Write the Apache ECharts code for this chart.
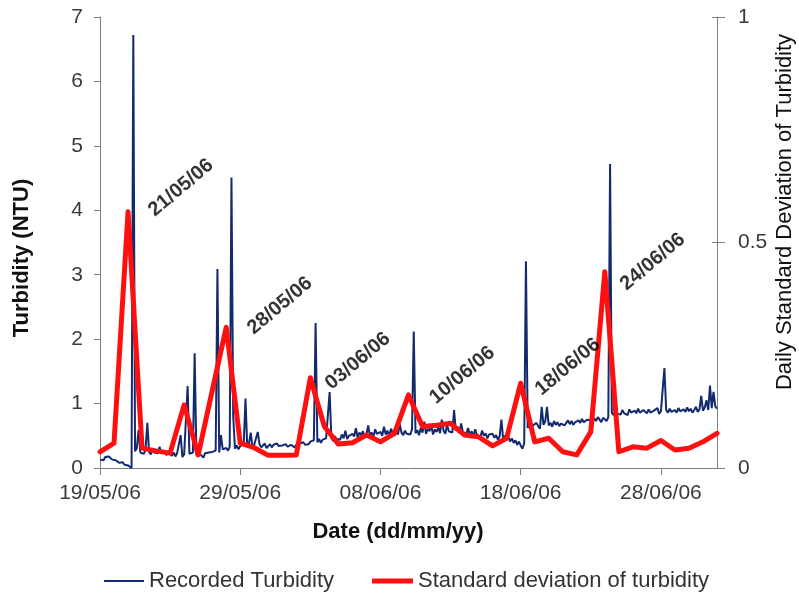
<!DOCTYPE html>
<html>
<head>
<meta charset="utf-8">
<script src="https://cdn.jsdelivr.net/npm/echarts@6/dist/echarts.min.js"></script>
<style>
  html, body { margin: 0; padding: 0; background: #ffffff; }
  #chart { width: 799px; height: 595px; }
</style>
</head>
<body>
<div id="chart"></div>
<script>
// Days counted from 19/05/06; turbidity is sampled every 3 hours.
const stepDays = 1 / 8;
const xTickDays = [0, 10, 20, 30, 40];
const xTickLabels = ['19/05/06', '29/05/06', '08/06/06', '18/06/06', '28/06/06'];

// Recorded turbidity (NTU), one value per 3 h, 8 per day
const turbidity = [
  0.13,0.16,0.12,0.17,0.14,0.18,0.15,0.13,
  0.16,0.12,0.14,0.08,0.06,0.09,0.05,0.07,
  0.04,0.02,0.00,6.72,0.26,0.31,0.59,0.24,
  0.27,0.22,0.29,0.70,0.25,0.21,0.28,0.24,
  0.26,0.23,0.33,0.22,0.27,0.24,0.20,0.25,
  0.22,0.19,0.24,0.18,0.23,0.20,0.51,0.17,
  0.21,0.18,1.27,0.22,0.19,0.24,1.78,0.20,
  0.17,0.22,0.19,0.16,0.23,0.20,0.24,0.21,
  0.25,0.22,0.27,3.09,0.24,0.51,0.29,0.26,
  0.31,0.27,0.33,4.51,0.80,0.30,0.35,0.29,
  0.34,0.31,0.37,1.08,0.33,0.38,0.55,0.32,
  0.36,0.33,0.56,0.37,0.32,0.35,0.38,0.31,
  0.34,0.37,0.32,0.36,0.33,0.38,0.34,0.31,
  0.35,0.32,0.37,0.33,0.30,0.36,0.34,0.32,
  0.36,0.33,0.38,0.35,0.40,0.36,0.39,0.37,
  0.41,0.38,0.43,2.25,0.40,0.45,0.39,0.44,
  0.41,0.46,0.43,1.18,0.47,0.42,0.49,0.45,
  0.48,0.44,0.52,0.46,0.58,0.45,0.50,0.47,
  0.53,0.49,0.62,0.47,0.55,0.51,0.57,0.48,
  0.52,0.66,0.50,0.55,0.49,0.60,0.53,0.51,
  0.56,0.50,0.64,0.52,0.58,0.49,0.61,0.54,
  0.50,0.57,0.52,0.68,0.55,0.51,0.58,0.53,
  0.56,0.52,0.60,2.12,0.54,0.59,0.51,0.62,
  0.55,0.72,0.53,0.61,0.57,0.66,0.52,0.60,
  0.56,0.63,0.54,0.75,0.58,0.53,0.67,0.57,
  0.60,0.55,0.90,0.58,0.64,0.54,0.69,0.56,
  0.59,0.53,0.62,0.51,0.57,0.49,0.60,0.52,
  0.55,0.48,0.58,0.50,0.54,0.46,0.52,0.49,
  0.53,0.47,0.51,0.44,0.49,0.75,0.45,0.50,
  0.44,0.48,0.41,0.46,0.39,0.43,0.36,0.41,
  0.35,0.30,0.38,3.21,0.62,0.68,0.60,0.66,
  0.63,0.70,0.65,0.61,0.95,0.67,0.72,0.95,
  0.66,0.70,0.64,0.73,0.67,0.71,0.65,0.69,
  0.72,0.66,0.70,0.74,0.68,0.73,0.67,0.71,
  0.69,0.74,0.70,0.76,0.71,0.68,0.75,0.72,
  0.74,0.70,0.77,0.73,0.79,0.75,0.71,0.78,
  0.76,0.73,0.79,4.72,0.86,0.82,0.89,0.84,
  0.87,0.83,0.90,0.85,0.88,0.82,0.91,0.86,
  0.84,0.89,0.85,0.92,0.86,0.83,0.90,0.87,
  0.85,0.91,0.86,0.83,0.89,0.86,0.93,0.84,
  0.88,0.85,1.55,0.90,0.86,0.92,0.87,0.84,
  0.90,0.86,0.93,0.88,0.85,0.91,0.87,0.94,
  0.88,0.92,0.86,0.90,0.95,0.87,0.91,1.12,
  0.89,0.94,1.05,0.90,1.28,0.93,1.18,0.96,
  0.92
];

// Daily standard deviation of turbidity, one value per day
const sdDaily = [
  0.036,0.055,0.568,0.044,0.038,0.033,0.140,0.029,0.171,0.312,
  0.055,0.045,0.028,0.028,0.029,0.200,0.092,0.053,0.056,0.073,
  0.058,0.077,0.162,0.092,0.095,0.099,0.073,0.069,0.049,0.066,
  0.188,0.058,0.066,0.036,0.029,0.080,0.435,0.036,0.047,0.044,
  0.061,0.040,0.044,0.058,0.077
];

// Event dates written beside the peaks, placed at (day, turbidity level)
const eventLabels = ['21/05/06', '28/05/06', '03/06/06', '10/06/06', '18/06/06', '24/06/06'];
const eventDays   = [5.77, 12.83, 18.39, 25.84, 33.36, 39.42];
const eventLevels = [4.35, 2.52, 1.66, 1.44, 1.57, 3.20];

const leftTicks = [0, 1, 2, 3, 4, 5, 6, 7];
const rightTicks = [0, 0.5, 1];

const FONT = '"Liberation Sans", Arial, sans-serif';
const AXIS_GREY = '#7f7f7f';
const TEXT_GREY = '#3a3a3a';
const BLUE = '#142a6e';
const RED = '#ff1010';

const chart = echarts.init(document.getElementById('chart'), null, { renderer: 'canvas' });

const turbidityData = turbidity.map((v, i) => [i * stepDays, v]);
const sdData = sdDaily.map((v, i) => [i, v]);
const eventData = eventLabels.map((t, i) => ({ value: [eventDays[i], eventLevels[i]], name: t }));

const legendText = { fontFamily: FONT, fontSize: 22, color: '#333333' };

const option = {
  backgroundColor: '#ffffff',
  animation: false,
  grid: { left: 100, right: 82, top: 17, bottom: 127, containLabel: false },
  legend: [
    {
      data: ['Recorded Turbidity'],
      icon: 'rect',
      left: 99, top: 565,
      itemWidth: 40, itemHeight: 2,
      textStyle: legendText
    },
    {
      data: ['Standard deviation of turbidity'],
      icon: 'rect',
      left: 367, top: 565,
      itemWidth: 41, itemHeight: 5,
      textStyle: legendText
    }
  ],
  xAxis: {
    type: 'value',
    min: 0,
    max: 44,
    interval: 10,
    axisLine: { show: true, lineStyle: { color: AXIS_GREY, width: 1 } },
    axisTick: { show: true, inside: false, length: 7, lineStyle: { color: AXIS_GREY }, customValues: xTickDays },
    axisLabel: {
      customValues: xTickDays,
      margin: 15,
      fontFamily: FONT, fontSize: 21, color: TEXT_GREY,
      formatter: v => {
        const k = xTickDays.indexOf(v);
        return k >= 0 ? xTickLabels[k] : '';
      }
    },
    splitLine: { show: false }
  },
  yAxis: [
    {
      type: 'value',
      min: 0, max: 7, interval: 1,
      position: 'left',
      axisLine: { show: true, lineStyle: { color: AXIS_GREY, width: 1 } },
      axisTick: { show: true, inside: false, length: 6, lineStyle: { color: AXIS_GREY }, customValues: leftTicks },
      axisLabel: { customValues: leftTicks, margin: 17, fontFamily: FONT, fontSize: 21, color: TEXT_GREY },
      splitLine: { show: false }
    },
    {
      type: 'value',
      min: 0, max: 1, interval: 0.5,
      position: 'right',
      axisLine: { show: true, lineStyle: { color: AXIS_GREY, width: 1 } },
      axisTick: { show: true, inside: false, length: 8, lineStyle: { color: AXIS_GREY }, customValues: rightTicks },
      axisLabel: { customValues: rightTicks, margin: 21, fontFamily: FONT, fontSize: 21, color: TEXT_GREY },
      splitLine: { show: false }
    },
    {
      // inner half of the crossing ticks on the right axis
      type: 'value',
      min: 0, max: 1, interval: 0.5,
      position: 'right',
      axisLine: { show: false },
      axisTick: { show: true, inside: true, length: 5, lineStyle: { color: AXIS_GREY }, customValues: rightTicks },
      axisLabel: { show: false },
      splitLine: { show: false }
    }
  ],
  graphic: [
    {
      type: 'text', x: 22, y: 258, rotation: Math.PI / 2,
      style: { text: 'Turbidity (NTU)', font: 'bold 22px ' + FONT, fill: '#111111', textAlign: 'center', textVerticalAlign: 'middle' }
    },
    {
      type: 'text', x: 785, y: 212, rotation: Math.PI / 2,
      style: { text: 'Daily Standard Deviation of Turbidity', font: '22px ' + FONT, fill: '#111111', textAlign: 'center', textVerticalAlign: 'middle' }
    },
    {
      type: 'text', x: 398, y: 532,
      style: { text: 'Date (dd/mm/yy)', font: 'bold 22px ' + FONT, fill: '#111111', textAlign: 'center', textVerticalAlign: 'middle' }
    }
  ],
  series: [
    {
      name: 'Recorded Turbidity',
      type: 'line',
      xAxisIndex: 0, yAxisIndex: 0,
      data: turbidityData,
      showSymbol: false,
      symbol: 'none',
      lineStyle: { color: BLUE, width: 2 },
      itemStyle: { color: BLUE },
      z: 2
    },
    {
      name: 'Standard deviation of turbidity',
      type: 'line',
      xAxisIndex: 0, yAxisIndex: 1,
      data: sdData,
      showSymbol: false,
      symbol: 'none',
      lineStyle: { color: RED, width: 5, cap: 'round', join: 'round' },
      itemStyle: { color: RED },
      z: 3
    },
    {
      name: 'events',
      type: 'scatter',
      xAxisIndex: 0, yAxisIndex: 0,
      data: eventData,
      symbolSize: 1,
      itemStyle: { color: 'rgba(0,0,0,0)' },
      silent: true,
      label: {
        show: true,
        position: 'inside',
        rotate: 40,
        formatter: p => p.name,
        fontFamily: FONT, fontSize: 20, fontWeight: 'bold', color: '#000000'
      },
      z: 4
    }
  ]
};

chart.setOption(option);
</script>
</body>
</html>
